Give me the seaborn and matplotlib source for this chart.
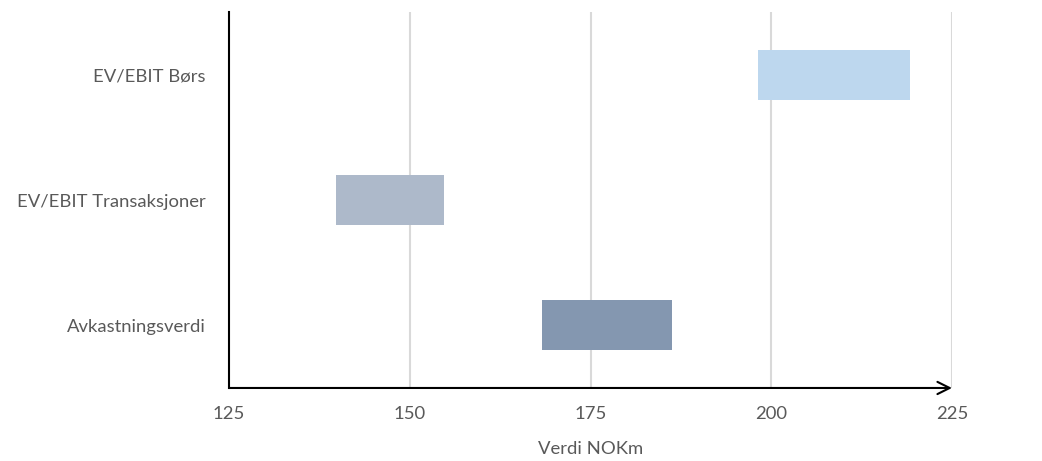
import matplotlib
matplotlib.use("Agg")
import matplotlib.pyplot as plt
import seaborn as sns
import pandas as pd

# Valuation ranges (NOKm) per method
methods = ["EV/EBIT Børs", "EV/EBIT Transaksjoner", "Avkastningsverdi"]
range_low = [198.2, 139.8, 168.3]
range_high = [219.2, 154.7, 186.3]
bar_colors = ["#BDD7EE", "#ADB9CA", "#8497B0"]
x_ticks = [125, 150, 175, 200, 225]

df = pd.DataFrame({
    "method": methods,
    "low": range_low,
    "span": [h - l for h, l in zip(range_high, range_low)],
})

sns.set_theme(style="white")
plt.rcParams["font.family"] = ["Lato", "DejaVu Sans"]
text_color = "#595959"
fs = 13.3

fig = plt.figure(figsize=(10.42, 4.61), dpi=100)
ax = fig.add_axes([0.2198, 0.1584, 0.6938, 0.8145])

for xv in x_ticks[1:]:
    ax.axvline(xv, color="#D9D9D9", lw=1.5, zorder=0)

sns.barplot(data=df, x="span", y="method", left=df["low"].tolist(),
            width=0.4, color=bar_colors[0], ax=ax, zorder=2)
for patch, c in zip(ax.patches, bar_colors):
    patch.set_facecolor(c)
    patch.set_edgecolor("none")

ax.set_xlim(x_ticks[0], x_ticks[-1])
ax.set_ylim(2.5, -0.5)
ax.set_xticks(x_ticks)
ax.set_xticklabels([str(t) for t in x_ticks])

for s in ["top", "right", "bottom"]:
    ax.spines[s].set_visible(False)
ax.spines["left"].set_color("black")
ax.spines["left"].set_linewidth(1.5)

# x-axis drawn as an arrow
ax.annotate("", xy=(1.0, 0), xytext=(0, 0), xycoords="axes fraction",
            textcoords="axes fraction",
            arrowprops=dict(arrowstyle="->", color="black", lw=1.5,
                            shrinkA=0, shrinkB=0, mutation_scale=22),
            annotation_clip=False)

ax.tick_params(axis="x", length=0, pad=13, labelsize=fs, labelcolor=text_color)
ax.tick_params(axis="y", length=0, pad=17, labelsize=fs, labelcolor=text_color)
ax.set_xlabel("Verdi NOKm", fontsize=fs, color=text_color, labelpad=14)
ax.set_ylabel("")

fig.savefig("out.png", dpi=100)
